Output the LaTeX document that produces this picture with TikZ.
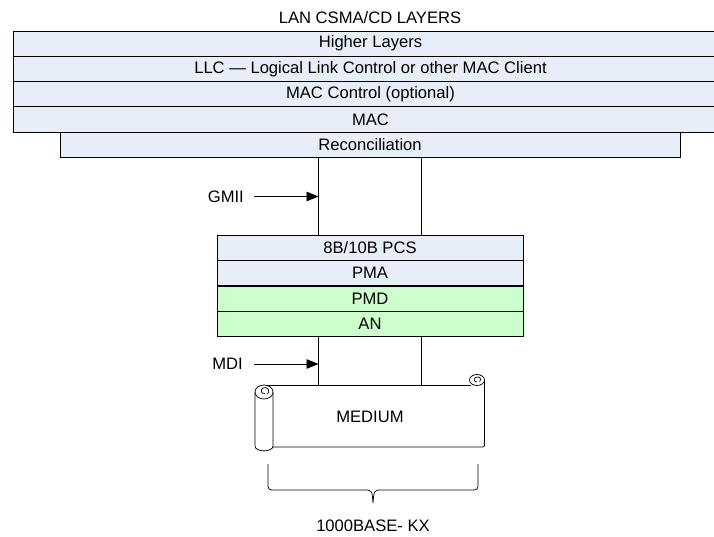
\documentclass[tikz,border=0pt]{standalone}
\usepackage{fontspec}
\setmainfont{Liberation Sans}
\usetikzlibrary{arrows.meta}
\definecolor{rowblue}{HTML}{E8EEF7}
\definecolor{rowgreen}{HTML}{CCFFCC}
\begin{document}
\begin{tikzpicture}[x=1pt,y=-1pt,
  every node/.style={font=\fontsize{16.6}{19}\selectfont},
  layer/.style={draw=black, line width=0.9pt, inner sep=0pt, minimum height=25.3pt, fill=rowblue},
  toprow/.style={layer, minimum width=715pt},
  pcsrow/.style={layer, minimum width=306pt},
  greenrow/.style={pcsrow, fill=rowgreen},
  link/.style={draw=black, line width=0.9pt},
  arr/.style={link, -{Triangle[length=12pt,width=9.5pt]}},
  shapeline/.style={draw=black, line width=0.75pt}
]
\useasboundingbox (0,0) rectangle (714,537);
\clip (0,0) rectangle (714,537);
\fill[white] (0,0) rectangle (714,537);

\node (title) at (370,18) {LAN CSMA/CD LAYERS};

% top stack
\node[toprow] (hl)   at (370.5,43.65)  {Higher Layers};
\node[toprow] (llc)  at (370.5,68.95)  {LLC --- Logical Link Control or other MAC Client};
\node[toprow] (macc) at (370.5,94.25)  {MAC Control (optional)};
\node[toprow] (mac)  at (370.5,119.55) {MAC};
\node[layer, minimum width=620pt] (rec) at (370,144.85) {Reconciliation};

% PHY stack
\node[pcsrow]   (pcs) at (370,247.75) {8B/10B PCS};
\node[pcsrow]   (pma) at (370,273.25) {PMA};
\node[greenrow] (pmd) at (370,298.75) {PMD};
\node[greenrow] (an)  at (370,324.25) {AN};

\coordinate (cl) at (318.5,0);
\coordinate (cr) at (421.5,0);

% GMII connectors
\draw[link] (rec.south -| cl) -- (pcs.north -| cl);
\draw[link] (rec.south -| cr) -- (pcs.north -| cr);
\node[anchor=east, inner sep=0pt] (gmii) at (244,197) {GMII};
\coordinate (gmiitip) at (318.5,196.5);
\draw[arr] ([xshift=10pt]gmii.east |- gmiitip) -- (gmiitip);

% medium scroll
\node (medium) at (370,417) {MEDIUM};
\coordinate (medtop) at (370,385);
\draw[link] (an.south -| cl) -- (medtop -| cl);
\draw[link] (an.south -| cr) -- (medtop -| cr);
\node[anchor=east, inner sep=0pt] (mdi) at (243,364) {MDI};
\coordinate (mditip) at (318.5,364);
\draw[arr] ([xshift=11pt]mdi.east |- mditip) -- (mditip);

% scroll shape
\draw[shapeline] (264,385) -- (471,385);
\draw[shapeline] (484.5,380) -- (484.5,443) .. controls (484.5,447) .. (480.5,447) -- (273,447);
\draw[shapeline] (477,380) ellipse [x radius=7.5, y radius=5.5];
\draw[shapeline] (479.5,381.5) .. controls (482.5,379) and (479,375.5) .. (475.5,377.5) .. controls (473,379) and (474,382) .. (477,382);
\draw[shapeline, fill=white] (255,392) -- (255,446) .. controls (255,452.5) and (273,452.5) .. (273,446) -- (273,392);
\draw[shapeline, fill=white] (264,392) ellipse [x radius=9, y radius=7];
\draw[shapeline] (267.5,394) .. controls (271,391) and (267,386) .. (263,388) .. controls (260,390) and (261,394) .. (265,393.5);

% brace
\draw[shapeline] (268,464) -- (268,482) .. controls (268,490) .. (276,490) -- (364,490)
  .. controls (372,490) .. (373,503) .. controls (374,490) .. (382,490) -- (470,490)
  .. controls (478,490) .. (478,482) -- (478,464);
\node (kx) at (373,526) {1000BASE- KX};
\end{tikzpicture}
\end{document}
